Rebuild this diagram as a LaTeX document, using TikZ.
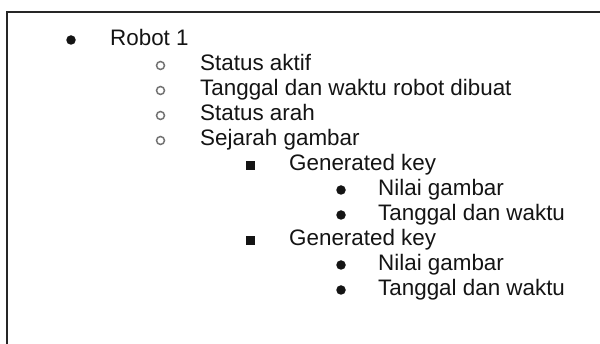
\documentclass[tikz,border=0pt]{standalone}
\usepackage{fontspec}
\setmainfont{Liberation Sans}
\usepackage{tikz}

\begin{document}
\begin{tikzpicture}[x=1pt, y=-1pt,
    item/.style={anchor=base west, inner sep=0pt, text=black!92,
        font=\fontsize{22.4}{26}\selectfont},
    disc/.style={circle, fill=black!92, inner sep=0pt, minimum size=9.5pt},
    ring/.style={circle, draw=black!55, line width=1.5pt, inner sep=0pt, minimum size=8pt},
    block/.style={rectangle, fill=black!92, inner sep=0pt, minimum width=9pt, minimum height=8.5pt}
  ]
  \useasboundingbox (0,0) rectangle (600,344);
  % frame (open on the right and at the bottom)
  \draw[line width=2pt, black!85] (7,344) -- (7,12) -- (600,12);

  % level 1
  \node[disc] (b1) at (71,40) {};
  \node[item] (robot) at (110,46) {Robot 1};

  % level 2
  \node[ring] (b2a) at (160.5,65.5) {};
  \node[item] (aktif) at (200,71) {Status aktif};
  \node[ring] (b2b) at (160.5,90.5) {};
  \node[item] (dibuat) at (200,96) {Tanggal dan waktu robot dibuat};
  \node[ring] (b2c) at (160.5,115.5) {};
  \node[item] (arah) at (200,121) {Status arah};
  \node[ring] (b2d) at (160.5,140.5) {};
  \node[item] (sejarah) at (200,146) {Sejarah gambar};

  % level 3 and 4
  \node[block] (b3a) at (250.5,165.5) {};
  \node[item] (keyA) at (289,171) {Generated key};
  \node[disc] (b4a) at (341,190) {};
  \node[item] (nilaiA) at (378,196) {Nilai gambar};
  \node[disc] (b4b) at (341,215) {};
  \node[item] (waktuA) at (378,221) {Tanggal dan waktu};

  \node[block] (b3b) at (250.5,240.5) {};
  \node[item] (keyB) at (289,246) {Generated key};
  \node[disc] (b4c) at (341,265) {};
  \node[item] (nilaiB) at (378,271) {Nilai gambar};
  \node[disc] (b4d) at (341,290) {};
  \node[item] (waktuB) at (378,296) {Tanggal dan waktu};
\end{tikzpicture}
\end{document}
